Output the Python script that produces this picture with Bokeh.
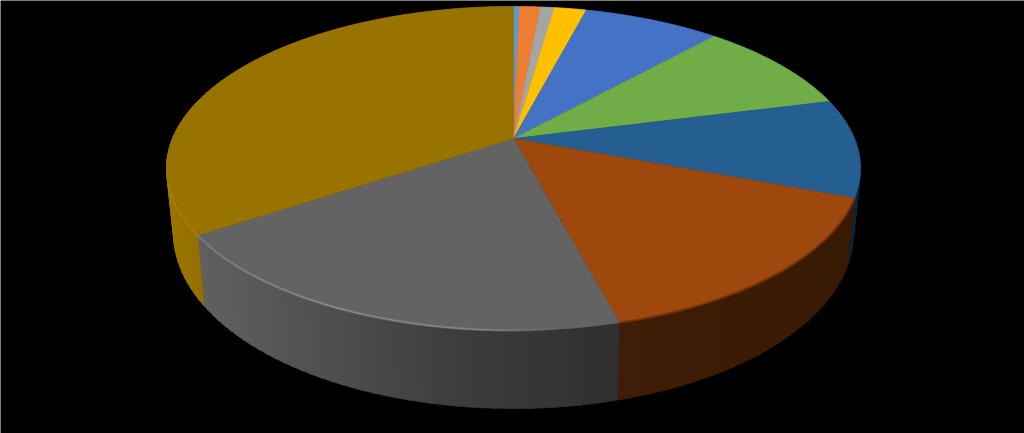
import numpy as np
from bokeh.plotting import figure
from bokeh.embed import file_html
from bokeh.resources import INLINE

# Slice shares in percent, clockwise from 12 o'clock
shares = [0.33, 1.17, 0.78, 1.77, 7.62, 9.34, 9.78, 15.10, 19.72, 34.39]
colors = ["#5b9bd5", "#ed7d31", "#a5a5a5", "#ffc000", "#4472c4",
          "#70ad47", "#255e91", "#9e480e", "#636363", "#997300"]
side_dim = [1, 1, 1, 1, 1, 1, 0.95, 0.85, 1, 1]

K = 0.185
CX = 513.0
TOP = dict(a=341.0, b=156.4, y0=138.0)
BOT = dict(a=334.0, b=169.0, y0=200.6)


def proj(t, plane):
    u, v = np.sin(t), np.cos(t)
    d = 1 + K * v
    return CX + u * plane["a"] / d, plane["y0"] - v * plane["b"] / d


def rgb(hexc, f):
    c = [int(hexc[i:i + 2], 16) for i in (1, 3, 5)]
    return "#%02x%02x%02x" % tuple(int(min(255, round(x * f))) for x in c)


def shade(x):
    return np.interp(x, [166, 205, 450, 620, 860], [1.02, 0.96, 0.62, 0.47, 0.42])


edges = np.concatenate([[0], np.cumsum(shares)]) / np.sum(shares) * 2 * np.pi

p = figure(width=1024, height=433, output_backend="svg", toolbar_location=None,
           x_range=(0, 1024), y_range=(433, 0), min_border=0,
           background_fill_color="black", border_fill_color="black",
           outline_line_color=None)
p.axis.visible = False
p.grid.visible = False

# Side wall, as overlapping shaded strips painted in order
sx, sy, sc = [], [], []
for i, col in enumerate(colors):
    n = max(2, int((edges[i + 1] - edges[i]) / 0.03))
    ts = np.linspace(edges[i], edges[i + 1], n + 1)
    for j, (t0, t1) in enumerate(zip(ts[:-1], ts[1:])):
        t1b = t1 + 0.01 if j < n - 1 else t1
        a = np.linspace(t0, t1b, 4)
        x0, y0 = proj(a, TOP)
        x1, y1 = proj(a[::-1], BOT)
        sx.append(np.concatenate([x0, x1]).tolist())
        sy.append(np.concatenate([y0, y1]).tolist())
        sc.append(rgb(col, shade(x0.mean()) * side_dim[i]))
p.patches(sx, sy, fill_color=sc, line_color=sc, line_width=0.7)

# Top face
tx, ty = [], []
for i in range(len(colors)):
    n = max(4, int((edges[i + 1] - edges[i]) / 0.01))
    ts = np.linspace(edges[i], edges[i + 1], n + 1)
    x, y = proj(ts, TOP)
    tx.append([CX] + x.tolist())
    ty.append([TOP["y0"]] + y.tolist())
p.patches(tx, ty, fill_color=colors, line_color=colors, line_width=0.6)

# Soft transition between top face and wall on the brown slice
ts = np.linspace(edges[7], edges[8], 80)
x, y = proj(ts, TOP)
p.line(x, y, line_color="#6e3209", line_alpha=0.8, line_width=2.2)

# Rim highlight along the front-left edge
ts = np.linspace(edges[8], edges[9], 120)
x, y = proj(ts, TOP)
hl_x = [x[i:i + 2].tolist() for i in range(len(x) - 1)]
hl_y = [y[i:i + 2].tolist() for i in range(len(y) - 1)]
hl_c = [float(np.interp(x[i], [198, 330, 480, 560, 621], [0.35, 0.55, 0.5, 0.08, 0.0]))
        for i in range(len(x) - 1)]
p.multi_line(hl_x, hl_y, line_color="#8c8c8c", line_alpha=[c * 0.6 for c in hl_c], line_width=3)
p.multi_line(hl_x, hl_y, line_color="#a8a8a8", line_alpha=hl_c, line_width=1.3)

ts = np.linspace(edges[9], edges[9] + 0.32, 30)
x, y = proj(ts, TOP)
p.line(x, y, line_color="#b88f10", line_alpha=0.5, line_width=1.6)

open("out.html", "w").write(file_html(p, INLINE))
